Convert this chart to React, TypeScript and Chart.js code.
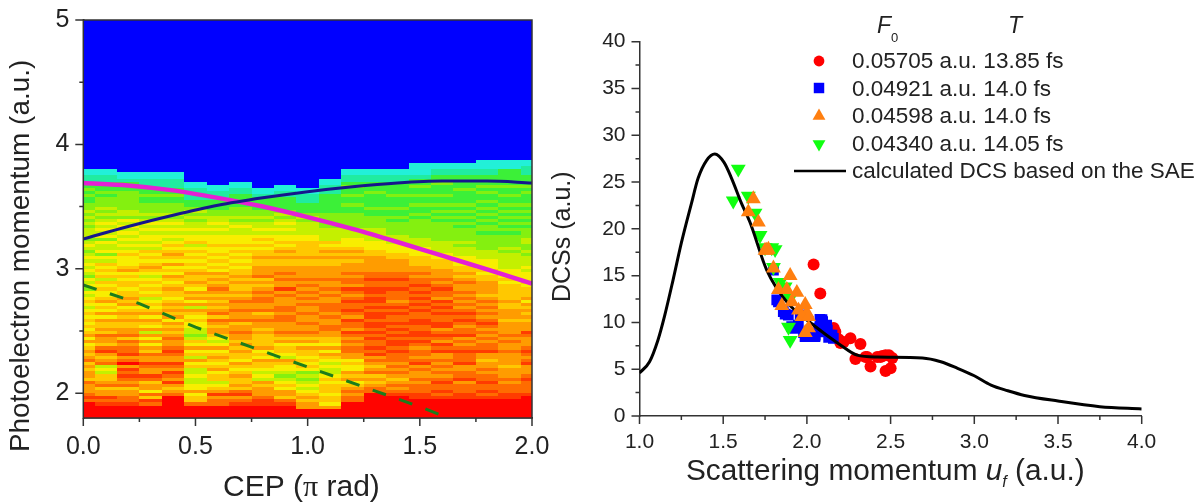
import React, { useEffect, useRef } from "react";
import { Chart, registerables } from "chart.js";
import { drawPoint } from "chart.js/helpers";

Chart.register(...registerables);
Chart.defaults.font.family = "'Liberation Sans', Arial, sans-serif";

const SANS = "'Liberation Sans', Arial, sans-serif";
const SERIF = "'Liberation Serif', serif";
const INK = "#222";

// left panel: heat map, one string per CEP column, bottom to top, one char per momentum row
const cepStep = 0.1;
const rowStep = 0.025;
const rowStart = 1.8;
const heatLevels = ["#0000ff", "#22f0d8", "#20eca0", "#3cf038", "#84f010", "#c4f000", "#f8ee00", "#ffc800", "#ff9c00", "#ff6c00", "#ff3c00", "#ff0400"];
const heatColumns = [
  "bbbbb9a988" + "8978878798" + "7876868767" + "6767656765" + "6465645656" + "5654565455" + "5454545443" + "3434332211",
  "bbbba9a887" + "9877565987" + "8a97889787" + "7868676876" + "6767576767" + "5646556465" + "6565454544" + "4343332211",
  "bbbba99887" + "989a9a8b98" + "a998979887" + "7878768787" + "7677676876" + "6676565656" + "5656455444" + "444333211",
  "bbbb9a7968" + "879a889a88" + "9786868586" + "7868767657" + "6767656787" + "6767565665" + "6565454443" + "343322211",
  "bbbbbbb987" + "8a89a89a88" + "9a98898787" + "8687878767" + "7876786768" + "6787676565" + "6565454443" + "343322211",
  "bbbb977686" + "6556557685" + "7686754556" + "6767858687" + "8678778767" + "6767657665" + "6554545433" + "222211",
  "bbbb998a87" + "6577687678" + "7686567887" + "8979878787" + "8987878676" + "7676676665" + "6565544333" + "22211",
  "bbbba98a97" + "8778767867" + "7878788988" + "7988988987" + "8778787767" + "6767676665" + "5654544433" + "332211",
  "bbbbaa9888" + "7856567786" + "7687777878" + "8987988998" + "9878798887" + "7877676765" + "6554544333" + "3211",
  "bbbba97886" + "7654566785" + "6776878988" + "8998998889" + "8a88989887" + "7878767665" + "6565454333" + "32211",
  "bbb8878765" + "6545467676" + "7786878988" + "9889889898" + "9898988887" + "7877777665" + "5554543332" + "2211",
  "bbb8677677" + "7676556567" + "8686778899" + "8898999889" + "8988988887" + "7878767555" + "5444443333" + "3322211",
  "bbbbb99898" + "7687866768" + "8998989a89" + "9a89a99a98" + "9a89989888" + "7878766655" + "5444443343" + "3433432211",
  "bbbbbbbb99" + "8787987898" + "a9a99a9a9a" + "a9aa9a9aa9" + "aa99a99888" + "8877666555" + "5444433433" + "3343332211",
  "bbbbbbba98" + "9878989899" + "9a9aa9a9a9" + "a99a9a9899" + "9a99a99888" + "8776665554" + "4443433433" + "3433332211",
  "bbbbbbaa99" + "9898898a98" + "9989a9aa99" + "aa99a9a9a9" + "a9a9989887" + "7766655544" + "4444343343" + "3433433211" + "11",
  "bbbbbba9a9" + "9a98989898" + "8a9a89a98a" + "a99a9a9a89" + "9a98988877" + "7665555444" + "4443434343" + "3433343322" + "11",
  "bbbbbbaa99" + "98a9988a99" + "9a9898a998" + "9a9a989898" + "9889878776" + "6655545444" + "4343434343" + "3334333322" + "11",
  "bbbbbba9a9" + "9a99898878" + "8a99898989" + "a989898987" + "8888776766" + "6555444443" + "4434343434" + "3343433322" + "111",
  "bbbbbbaa99" + "9898887888" + "8988989888" + "8788877877" + "7776766655" + "5554544443" + "4343434343" + "3433433333" + "111",
  "bbbbbbba99" + "99a9888a98" + "9a98889a88" + "8787878687" + "7767666565" + "5545445544" + "4343434343" + "3343433322" + "211",
];

const magentaX = [0, 0.2, 0.4, 0.6, 0.8, 1.0, 1.2, 1.4, 1.6, 1.8, 2.0];
const magentaY = [3.69, 3.67, 3.63, 3.57, 3.5, 3.415, 3.32, 3.215, 3.105, 2.995, 2.88];
const navyX = [0, 0.2, 0.4, 0.6, 0.8, 1.0, 1.2, 1.4, 1.6, 1.8, 2.0];
const navyY = [3.24, 3.34, 3.43, 3.51, 3.57, 3.62, 3.66, 3.69, 3.705, 3.705, 3.69];
const dashedX = [0, 0.25, 0.5, 0.75, 1.0, 1.25, 1.5, 1.6];
const dashedY = [2.87, 2.72, 2.53, 2.37, 2.21, 2.05, 1.89, 1.82];

// right panel
const curveU = [1.0, 1.06, 1.11, 1.15, 1.2, 1.25, 1.31, 1.35, 1.4, 1.45, 1.505, 1.55, 1.61, 1.66, 1.76, 1.88, 2.04, 2.2, 2.3, 2.42, 2.69, 2.8, 2.9, 3.0, 3.1, 3.2, 3.3, 3.5, 3.75, 4.0];
const curveV = [4.6, 5.8, 8.1, 10.7, 14.5, 18.5, 22.7, 25.4, 27.3, 28.0, 27.1, 25.4, 22.7, 20.7, 15.6, 12.2, 9.7, 7.6, 6.5, 6.3, 6.2, 5.8, 5.1, 4.3, 3.3, 2.7, 2.2, 1.6, 1.0, 0.75];
const redU = [2.04, 2.08, 2.16, 2.17, 2.19, 2.2, 2.22, 2.26, 2.32, 2.29, 2.35, 2.38, 2.36, 2.42, 2.44, 2.45, 2.47, 2.49, 2.51, 2.5, 2.47];
const redV = [16.2, 13.1, 9.4, 9.0, 8.2, 7.8, 7.9, 8.3, 7.7, 6.1, 6.3, 5.3, 6.3, 6.3, 6.3, 6.4, 6.5, 6.5, 6.2, 5.1, 4.8];
const blueU = [1.8, 1.82, 1.83, 1.859, 1.87, 1.889, 1.909, 1.93, 1.929, 1.949, 1.96, 1.98, 1.989, 2.009, 2.02, 2.048, 2.05, 2.07, 2.078, 2.078, 2.09, 2.094, 2.11, 2.118, 2.122, 2.13, 2.138, 2.15, 2.158];
const blueV = [15.6, 12.4, 12.2, 11.15, 10.9, 10.79, 9.54, 9.5, 9.37, 9.72, 10.8, 8.9, 8.47, 8.47, 8.7, 8.47, 8.65, 9.4, 10.33, 9.0, 10.3, 10.08, 9.5, 9.72, 9.19, 8.4, 8.65, 8.65, 8.3];
const orangeU = [1.68, 1.65, 1.71, 1.77, 1.75, 1.76, 1.8, 1.9, 1.83, 1.88, 1.94, 1.85, 1.91, 1.99, 1.95, 2.0, 1.97, 2.01, 2.01, 1.99];
const orangeV = [23.2, 21.8, 20.7, 17.8, 17.7, 17.7, 15.8, 15, 13.5, 13.5, 13.2, 11.8, 12.2, 11.9, 11.3, 11, 10.6, 10.6, 9.4, 8.9];
const greenU = [1.59, 1.56, 1.65, 1.69, 1.72, 1.75, 1.79, 1.81, 1.8, 1.84, 1.87, 1.9, 1.89, 1.9];
const greenV = [26.4, 23.0, 23.5, 21.7, 19.3, 18, 18, 17.8, 15.9, 14.3, 13.8, 12.6, 9.5, 8.1];

const legendRows = ["0.05705 a.u. 13.85 fs", "0.04921 a.u. 14.0 fs", "0.04598 a.u. 14.0 fs", "0.04340 a.u. 14.05 fs"];
const lineLabel = "calculated DCS based on the SAE";

const toXY = (xs: number[], ys: number[]) => xs.map((x, i) => ({ x, y: ys[i] }));

type Run = { text: string; font: string; dy?: number };

function drawRuns(ctx: CanvasRenderingContext2D, x: number, y: number, runs: Run[], angle = 0) {
  ctx.save();
  ctx.translate(x, y);
  ctx.rotate(angle);
  ctx.fillStyle = INK;
  ctx.textAlign = "left";
  ctx.textBaseline = "alphabetic";
  let cx = 0;
  for (const r of runs) {
    ctx.font = r.font;
    ctx.fillText(r.text, cx, r.dy || 0);
    cx += ctx.measureText(r.text).width;
  }
  ctx.restore();
}

// tick marks: Chart.js has one tick length per axis, this needs long and short ones
const tickMarks = {
  id: "tickMarks",
  afterDraw(chart: any) {
    const { ctx, scales, chartArea } = chart;
    ctx.save();
    ctx.strokeStyle = "#333";
    ctx.lineWidth = 1.5;
    ctx.beginPath();
    for (const t of scales.x.ticks) {
      const px = scales.x.getPixelForValue(t.value);
      ctx.moveTo(px, chartArea.bottom);
      ctx.lineTo(px, chartArea.bottom + (t.label ? 8 : 4));
    }
    for (const t of scales.y.ticks) {
      const py = scales.y.getPixelForValue(t.value);
      ctx.moveTo(chartArea.left, py);
      ctx.lineTo(chartArea.left - (t.label ? 8 : 4), py);
    }
    ctx.stroke();
    ctx.restore();
  },
};

const heatCells = {
  id: "heatCells",
  beforeDatasetsDraw(chart: any) {
    const { ctx, scales, chartArea: a } = chart;
    ctx.save();
    ctx.beginPath();
    ctx.rect(a.left, a.top, a.width, a.height);
    ctx.clip();
    ctx.fillStyle = heatLevels[0];
    ctx.fillRect(a.left, a.top, a.width, a.height);
    heatColumns.forEach((col, c) => {
      const x0 = Math.round(scales.x.getPixelForValue((c - 0.5) * cepStep));
      const x1 = Math.round(scales.x.getPixelForValue((c + 0.5) * cepStep));
      for (let r = 0; r < col.length; r++) {
        const y0 = Math.round(scales.y.getPixelForValue(rowStart + r * rowStep));
        const y1 = Math.round(scales.y.getPixelForValue(rowStart + (r + 1) * rowStep));
        ctx.fillStyle = heatLevels[parseInt(col[r], 16)];
        ctx.fillRect(x0, y1, x1 - x0, y0 - y1);
      }
    });
    ctx.restore();
  },
  afterDraw(chart: any) {
    const { ctx, chartArea: a } = chart;
    ctx.save();
    ctx.strokeStyle = "#333";
    ctx.lineWidth = 1.5;
    ctx.strokeRect(a.left, a.top, a.width, a.height);
    ctx.restore();
    const big = `30px ${SANS}`;
    drawRuns(ctx, 223, 496, [
      { text: "CEP (", font: big },
      { text: "π", font: `30px ${SERIF}` },
      { text: " rad)", font: big },
    ]);
    drawRuns(ctx, 29, 452, [{ text: "Photoelectron momentum (a.u.)", font: `27.9px ${SANS}` }], -Math.PI / 2);
  },
};

const rightText = {
  id: "rightText",
  afterDraw(chart: any) {
    const { ctx } = chart;
    const off = 535; // canvas starts at x = 535 of the page
    const big = `29.8px ${SANS}`;
    drawRuns(ctx, 686 - off, 480, [
      { text: "Scattering momentum ", font: big },
      { text: "u", font: `italic 29.8px ${SANS}` },
      { text: "f", font: `italic 16px ${SANS}`, dy: 7 },
      { text: " (a.u.)", font: big },
    ]);
    drawRuns(ctx, 570 - off, 302, [{ text: "DCSs (a.u.)", font: `25px ${SANS}` }], -Math.PI / 2);

    const text = `22.5px ${SANS}`;
    drawRuns(ctx, 877 - off, 33, [
      { text: "F", font: `italic 23px ${SANS}` },
      { text: "0", font: `13px ${SANS}`, dy: 9 },
    ]);
    drawRuns(ctx, 1008 - off, 33, [{ text: "T", font: `italic 23px ${SANS}` }]);

    const markers = [
      { style: "circle", color: "#ff0000", radius: 5.4, rotation: 0, y: 61 },
      { style: "rect", color: "#0000ff", radius: 7.4, rotation: 0, y: 88 },
      { style: "triangle", color: "#ff7f10", radius: 7.4, rotation: 0, y: 116 },
      { style: "triangle", color: "#10ff10", radius: 7.4, rotation: 180, y: 144 },
    ];
    markers.forEach((m, i) => {
      ctx.fillStyle = m.color;
      ctx.strokeStyle = m.color;
      drawPoint(ctx, { pointStyle: m.style, radius: m.radius, rotation: m.rotation, borderWidth: 0 } as any, 819 - off, m.y);
      drawRuns(ctx, 852 - off, [68, 96, 123, 151][i], [{ text: legendRows[i], font: text }]);
    });
    ctx.save();
    ctx.strokeStyle = "#000";
    ctx.lineWidth = 2.5;
    ctx.beginPath();
    ctx.moveTo(794 - off, 171);
    ctx.lineTo(846 - off, 171);
    ctx.stroke();
    ctx.restore();
    drawRuns(ctx, 852 - off, 178, [{ text: lineLabel, font: text }]);
  },
};

// fixed axis size, and no extra room for labels that hang over the plot edge
const fixedAxis = (size: number, horizontal: boolean) => (s: any) => {
  if (horizontal) s.height = size;
  else s.width = size;
  s.paddingTop = 0;
  s.paddingBottom = 0;
  s.paddingLeft = 0;
  s.paddingRight = 0;
};

const LeftPanel = () => {
  const ref = useRef<HTMLCanvasElement | null>(null);
  useEffect(() => {
    if (!ref.current) return;
    const chart = new Chart(ref.current, {
      type: "line",
      data: {
        datasets: [
          { data: toXY(dashedX, dashedY), borderColor: "#1c7d1c", borderWidth: 3, borderDash: [14, 14], pointRadius: 0, tension: 0 },
          { data: toXY(navyX, navyY), borderColor: "#16168c", borderWidth: 3, pointRadius: 0, cubicInterpolationMode: "monotone" },
          { data: toXY(magentaX, magentaY), borderColor: "#e420d4", borderWidth: 4.5, pointRadius: 0, cubicInterpolationMode: "monotone" },
        ],
      },
      options: {
        responsive: false,
        animation: false,
        devicePixelRatio: 1,
        layout: { padding: { top: 20, right: 38, left: 0, bottom: 0 } },
        plugins: { legend: { display: false }, tooltip: { enabled: false } },
        scales: {
          x: {
            type: "linear",
            min: 0,
            max: 2,
            afterFit: fixedAxis(86, true),
            grid: { display: false, drawTicks: false },
            border: { color: "#333", width: 1.5 },
            ticks: {
              stepSize: 0.25,
              autoSkip: false,
              maxRotation: 0,
              padding: 14,
              color: INK,
              font: { size: 25 },
              callback: (v: any) => (Number(v) % 0.5 === 0 ? Number(v).toFixed(1) : ""),
            },
          },
          y: {
            type: "linear",
            min: rowStart,
            max: 5,
            afterFit: fixedAxis(83.3, false),
            grid: { display: false, drawTicks: false },
            border: { color: "#333", width: 1.5 },
            ticks: {
              stepSize: 0.5,
              includeBounds: false,
              autoSkip: false,
              padding: 14,
              color: INK,
              font: { size: 25 },
              callback: (v: any) => (Number.isInteger(Number(v)) ? String(v) : ""),
            },
          },
        },
      },
      plugins: [heatCells, tickMarks],
    } as any);
    return () => chart.destroy();
  }, []);
  return <canvas ref={ref} width={570} height={504} style={{ position: "absolute", left: 0, top: 0 }} />;
};

const RightPanel = () => {
  const ref = useRef<HTMLCanvasElement | null>(null);
  useEffect(() => {
    if (!ref.current) return;
    const scatter = (xs: number[], ys: number[], color: string, style: string, radius: number, order: number, rotation = 0) => ({
      type: "scatter",
      data: toXY(xs, ys),
      backgroundColor: color,
      borderColor: color,
      borderWidth: 0,
      pointStyle: style,
      pointRadius: radius,
      pointRotation: rotation,
      order,
    });
    const chart = new Chart(ref.current, {
      type: "scatter",
      data: {
        datasets: [
          scatter(redU, redV, "#ff0000", "circle", 6, 5),
          scatter(blueU, blueV, "#0000ff", "rect", 7.6, 4),
          scatter(greenU, greenV, "#10ff10", "triangle", 8.6, 3, 180),
          {
            type: "line",
            data: toXY(curveU, curveV),
            borderColor: "#000",
            borderWidth: 3,
            pointRadius: 0,
            cubicInterpolationMode: "monotone",
            order: 2,
          },
          scatter(orangeU, orangeV, "#ff7f10", "triangle", 8.6, 1),
        ],
      },
      options: {
        responsive: false,
        animation: false,
        devicePixelRatio: 1,
        layout: { padding: { top: 41.7, right: 58.3, left: 0, bottom: 0 } },
        plugins: { legend: { display: false }, tooltip: { enabled: false } },
        scales: {
          x: {
            type: "linear",
            min: 1,
            max: 4,
            afterFit: fixedAxis(88, true),
            grid: { display: false, drawTicks: false },
            border: { color: "#333", width: 1.5 },
            ticks: {
              stepSize: 0.25,
              autoSkip: false,
              maxRotation: 0,
              padding: 14,
              color: INK,
              font: { size: 21 },
              callback: (v: any) => (Number(v) % 0.5 === 0 ? Number(v).toFixed(1) : ""),
            },
          },
          y: {
            type: "linear",
            min: 0,
            max: 40,
            afterFit: fixedAxis(104.5, false),
            grid: { display: false, drawTicks: false },
            border: { color: "#333", width: 1.5 },
            ticks: {
              stepSize: 2.5,
              autoSkip: false,
              padding: 14,
              color: INK,
              font: { size: 21 },
              callback: (v: any) => (Number(v) % 5 === 0 ? String(v) : ""),
            },
          },
        },
      },
      plugins: [tickMarks, rightText],
    } as any);
    return () => chart.destroy();
  }, []);
  return <canvas ref={ref} width={665} height={504} style={{ position: "absolute", left: 535, top: 0 }} />;
};

export default function App() {
  return (
    <div style={{ position: "absolute", left: 0, top: 0, width: 1200, height: 504, background: "#fff", overflow: "hidden" }}>
      <LeftPanel />
      <RightPanel />
    </div>
  );
}
